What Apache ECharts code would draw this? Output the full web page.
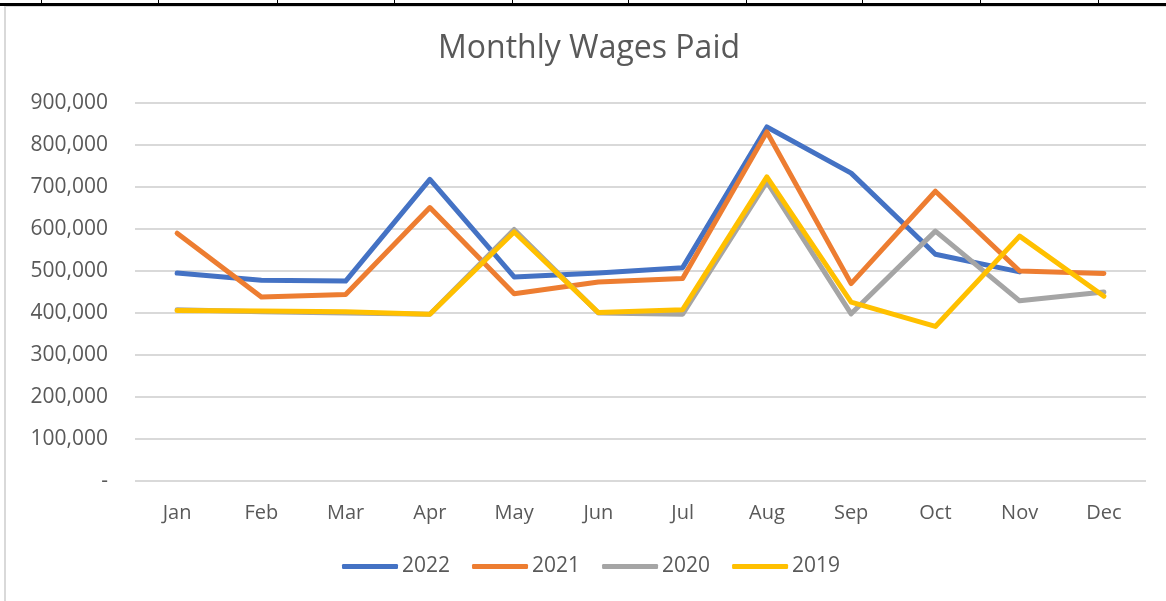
<!DOCTYPE html>
<html>
<head>
<meta charset="utf-8">
<script src="https://cdn.jsdelivr.net/npm/echarts@6/dist/echarts.min.js"></script>
<style>
  html, body { margin: 0; padding: 0; background: #fff; }
  #chart { width: 1166px; height: 601px; }
</style>
</head>
<body>
<div id="chart"></div>
<script>
const months = ['Jan', 'Feb', 'Mar', 'Apr', 'May', 'Jun', 'Jul', 'Aug', 'Sep', 'Oct', 'Nov', 'Dec']
const years = ['2022', '2021', '2020', '2019']
const colors = ['#4472C4', '#ED7D31', '#A5A5A5', '#FFC000']

const wages2022 = [495000, 478000, 476000, 718000, 486000, 495000, 508000, 843000, 733000, 540000, 498000, null]
const wages2021 = [590000, 438000, 444000, 651000, 446000, 474000, 482000, 831000, 470000, 690000, 500000, 494000]
const wages2020 = [408000, 403000, 400000, 397000, 599000, 400000, 397000, 712000, 398000, 595000, 429000, 450000]
const wages2019 = [406000, 405000, 403000, 397000, 593000, 401000, 408000, 724000, 426000, 368000, 583000, 440000]
const seriesData = [wages2022, wages2021, wages2020, wages2019]

// spreadsheet cell borders along the top edge
const cellEdges = [41, 158, 277, 394, 512, 628, 746, 862, 980, 1098]

const font = '"Open Sans", sans-serif'
const chart = echarts.init(document.getElementById('chart'))

chart.setOption({
  animation: false,
  color: colors,
  textStyle: { fontFamily: font },
  title: {
    text: 'Monthly Wages Paid',
    left: 433,
    top: 28,
    textStyle: { fontSize: 32, fontWeight: 'normal', color: '#595959', fontFamily: font },
  },
  grid: { left: 135, right: 20, top: 103, bottom: 120, containLabel: false },
  xAxis: {
    type: 'category',
    data: months,
    boundaryGap: true,
    axisLine: { show: false },
    axisTick: { show: false },
    axisLabel: { color: '#595959', fontSize: 20, margin: 22, fontFamily: font },
  },
  yAxis: {
    type: 'value',
    min: 0,
    max: 900000,
    interval: 100000,
    axisLine: { show: false },
    axisTick: { show: false },
    splitLine: { lineStyle: { color: '#d9d9d9', width: 2 } },
    axisLabel: {
      color: '#595959',
      fontSize: 21,
      margin: 27,
      fontFamily: font,
      formatter: (v) => (v === 0 ? '-' : v.toLocaleString('en-US')),
    },
  },
  legend: {
    data: years,
    bottom: 19,
    left: 337,
    icon: 'roundRect',
    itemWidth: 56,
    itemHeight: 5,
    itemGap: 22,
    textStyle: { color: '#595959', fontSize: 21, padding: [0, 0, 0, -1], fontFamily: font },
  },
  series: years.map((y, i) => ({
    name: y,
    type: 'line',
    data: seriesData[i],
    symbol: 'none',
    lineStyle: { width: 5, color: colors[i], cap: 'round', join: 'round' },
  })),
  graphic: [
    {
      type: 'rect',
      shape: { x: 5, y: 6, width: 1170, height: 600 },
      style: { fill: 'none', stroke: '#d9d9d9', lineWidth: 2 },
      silent: true,
    },
    {
      type: 'rect',
      shape: { x: 0, y: 3, width: 1166, height: 3 },
      style: { fill: '#000' },
      silent: true,
    },
    ...cellEdges.map((x) => ({
      type: 'rect',
      shape: { x: x, y: 0, width: 1, height: 4 },
      style: { fill: '#000' },
      silent: true,
    })),
  ],
})
</script>
</body>
</html>
